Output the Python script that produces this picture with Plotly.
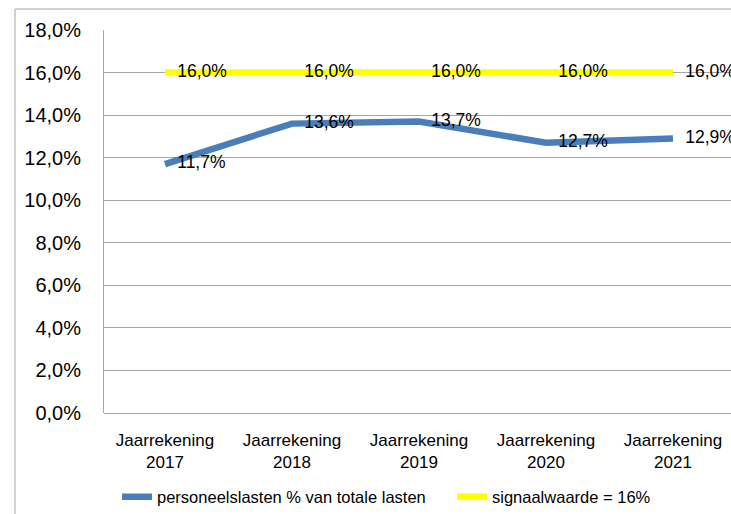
import plotly.graph_objects as go

categories = ["Jaarrekening<br>2017", "Jaarrekening<br>2018", "Jaarrekening<br>2019",
              "Jaarrekening<br>2020", "Jaarrekening<br>2021"]
personeelslasten = [11.7, 13.6, 13.7, 12.7, 12.9]
signaalwaarde = [16.0, 16.0, 16.0, 16.0, 16.0]
series_names = ["personeelslasten % van totale lasten", "signaalwaarde = 16%"]
y_ticks = [0, 2, 4, 6, 8, 10, 12, 14, 16, 18]

def fmt(v):
    return f"{v:.1f}".replace(".", ",") + "%"

FONT = "Liberation Sans, Arial, sans-serif"
W, H = 731, 514
L, R, T, B = 104, 731, 30, 413

fig = go.Figure()
fig.add_trace(go.Scatter(
    x=categories, y=personeelslasten, name=series_names[0], mode="lines+markers+text",
    line=dict(color="#4A7EBB", width=6.5),
    marker=dict(size=18, color="rgba(0,0,0,0)"),
    text=[fmt(v) for v in personeelslasten], textposition="middle right",
    textfont=dict(family=FONT, size=17.5, color="#000000"),
    cliponaxis=False, legend="legend",
))
fig.add_trace(go.Scatter(
    x=categories, y=signaalwaarde, name=series_names[1], mode="lines+markers+text",
    line=dict(color="#FFFF00", width=6.5),
    marker=dict(size=18, color="rgba(0,0,0,0)"),
    text=[fmt(v) for v in signaalwaarde], textposition="middle right",
    textfont=dict(family=FONT, size=17.5, color="#000000"),
    cliponaxis=False, legend="legend2",
))

def px_x(p):
    return (p - L) / (R - L)

def px_y(p):
    return (B - p) / (B - T)

# outer chart border (cut off at right and bottom)
fig.add_shape(type="line", xref="paper", yref="paper",
              x0=px_x(15), x1=px_x(740), y0=px_y(9), y1=px_y(9),
              line=dict(color="#A6A6A6", width=1))
fig.add_shape(type="line", xref="paper", yref="paper",
              x0=px_x(15), x1=px_x(15), y0=px_y(9), y1=px_y(520),
              line=dict(color="#A6A6A6", width=1))

legend_style = dict(orientation="h", xanchor="left", yanchor="middle",
                    font=dict(family=FONT, size=16.5, color="#000000"),
                    bgcolor="rgba(0,0,0,0)", itemwidth=30)

fig.update_layout(
    width=W, height=H,
    margin=dict(l=L, r=W - R, t=T, b=H - B, autoexpand=False),
    paper_bgcolor="white", plot_bgcolor="white",
    font=dict(family=FONT, color="#000000"),
    showlegend=True,
    legend=dict(x=px_x(117), y=px_y(497), **legend_style),
    legend2=dict(x=px_x(452), y=px_y(497), **legend_style),
    xaxis=dict(
        type="category", range=[-0.48, 4.457],
        showgrid=False, showline=False, zeroline=False,
        tickfont=dict(family=FONT, size=17, color="#000000"),
        ticks="", ticklabelstandoff=15,
    ),
    yaxis=dict(
        range=[0, 18], tickvals=y_ticks, ticktext=[fmt(v) for v in y_ticks],
        showgrid=True, gridcolor="#A6A6A6", gridwidth=1,
        showline=True, linecolor="#A6A6A6", linewidth=1,
        zeroline=True, zerolinecolor="#A6A6A6", zerolinewidth=1,
        tickfont=dict(family=FONT, size=20, color="#000000"),
        ticks="", ticklabelstandoff=18,
    ),
)

fig.write_html("out.html", config={"displayModeBar": False},
               post_script="document.body.style.margin='0';document.body.style.overflow='hidden';")
